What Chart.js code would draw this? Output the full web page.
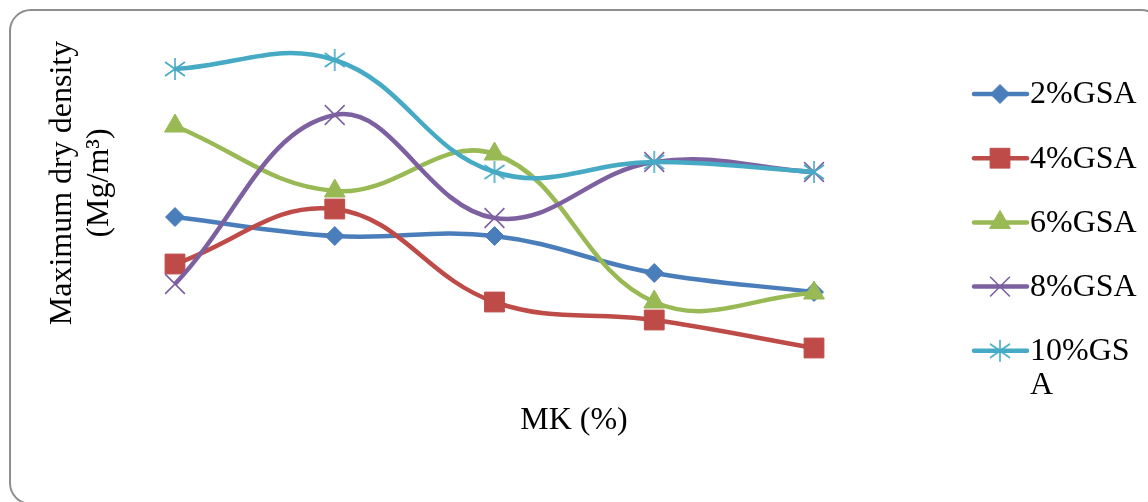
<!DOCTYPE html>
<html>
<head>
<meta charset="utf-8">
<script src="https://cdn.jsdelivr.net/npm/chart.js@4/dist/chart.umd.min.js"></script>
<style>
  body { margin: 0; background: #fff; }
  #wrap { position: relative; width: 1148px; height: 502px; overflow: hidden; }
  #frame { position: absolute; left: 9px; top: 9px; width: 1150px; height: 492px;
           border: 2px solid #8e8e8e; border-radius: 22px; }
  #chart { position: absolute; left: 0; top: 0; }
</style>
</head>
<body>
<div id="wrap">
  <div id="frame"></div>
  <canvas id="chart" width="1148" height="502"></canvas>
</div>
<script>
// MK content (%) - categories (no tick labels shown on the chart)
const mkLevels = ['0', '5', '10', '15', '20'];
const seriesNames = ['2%GSA', '4%GSA', '6%GSA', '8%GSA', '10%GSA'];

// maximum dry density (Mg/m3)
const gsa2 = [1.783, 1.764, 1.764, 1.727, 1.708];
const gsa4 = [1.736, 1.791, 1.698, 1.680, 1.652];
const gsa6 = [1.874, 1.809, 1.846, 1.698, 1.707];
const gsa8 = [1.716, 1.885, 1.782, 1.838, 1.828];
const gsa10 = [1.931, 1.940, 1.828, 1.838, 1.828];

const colors = ['#4a7ebb', '#be4b48', '#98b954', '#7d60a0', '#46aac5'];
const serif = '"Liberation Serif", "Times New Roman", serif';

// excel style asterisk marker: vertical bar plus a wide X
function starMarker(color) {
  const c = document.createElement('canvas');
  c.width = 24; c.height = 24;
  const g = c.getContext('2d');
  g.strokeStyle = color;
  g.lineWidth = 1.6;
  g.beginPath();
  g.moveTo(12, 1); g.lineTo(12, 23);
  g.moveTo(2, 5); g.lineTo(22, 19);
  g.moveTo(2, 19); g.lineTo(22, 5);
  g.stroke();
  return c;
}

const markers = [
  { pointStyle: 'rectRot', pointRadius: 9.5, pointBorderWidth: 1 },
  { pointStyle: 'rect', pointRadius: 14, pointBorderWidth: 1 },
  { pointStyle: 'triangle', pointRadius: 12, pointBorderWidth: 1 },
  { pointStyle: 'crossRot', pointRadius: 14, pointBorderWidth: 1.6 },
  { pointStyle: starMarker(colors[4]), pointRadius: 12, pointBorderWidth: 0 }
];

const values = [gsa2, gsa4, gsa6, gsa8, gsa10];

const datasets = values.map((v, i) => ({
  label: seriesNames[i],
  data: v,
  borderColor: colors[i],
  backgroundColor: colors[i],
  pointBackgroundColor: colors[i],
  pointBorderColor: colors[i],
  borderWidth: 4.5,
  tension: 0.4,
  clip: false,
  order: values.length - 1 - i,
  pointStyle: markers[i].pointStyle,
  pointRadius: markers[i].pointRadius,
  pointBorderWidth: markers[i].pointBorderWidth
}));

function wrapText(ctx, text, maxW) {
  const lines = [];
  let cur = '';
  for (const ch of text) {
    if (cur && ctx.measureText(cur + ch).width > maxW) {
      lines.push(cur);
      cur = ch;
    } else {
      cur += ch;
    }
  }
  lines.push(cur);
  return lines;
}

// axis titles and a line+marker legend like the original
const extras = {
  id: 'extras',
  afterDraw(chart) {
    const ctx = chart.ctx;
    ctx.save();
    ctx.fillStyle = '#000';
    ctx.font = '32px ' + serif;
    ctx.textAlign = 'center';
    ctx.textBaseline = 'middle';
    ctx.fillText('MK (%)', 574, 421);

    ctx.save();
    ctx.translate(63, 183);
    ctx.rotate(-Math.PI / 2);
    ctx.fillText('Maximum dry density', 0, 0);
    ctx.restore();
    ctx.save();
    ctx.translate(100, 183);
    ctx.rotate(-Math.PI / 2);
    ctx.fillText('(Mg/m\u00b3)', 0, 0);
    ctx.restore();

    chart.data.datasets.forEach((ds, i) => {
      const y = 94 + i * 64.2;
      ctx.strokeStyle = ds.borderColor;
      ctx.fillStyle = ds.borderColor;
      ctx.lineWidth = 4.5;
      ctx.lineCap = 'round';
      ctx.beginPath();
      ctx.moveTo(974, y);
      ctx.lineTo(1027, y);
      ctx.stroke();
      ctx.lineCap = 'butt';
      ctx.lineWidth = ds.pointBorderWidth;
      Chart.helpers.drawPoint(ctx, {
        pointStyle: ds.pointStyle,
        radius: ds.pointRadius,
        borderWidth: ds.pointBorderWidth,
        rotation: 0
      }, 1000, y);

      ctx.fillStyle = '#000';
      ctx.textAlign = 'left';
      ctx.font = '32px ' + serif;
      const lines = wrapText(ctx, ds.label, 112);
      lines.forEach((ln, k) => ctx.fillText(ln, 1030, y + 1 + k * 34));
    });
    ctx.restore();
  }
};

new Chart(document.getElementById('chart'), {
  type: 'line',
  data: {
    labels: mkLevels,
    datasets: datasets
  },
  options: {
    responsive: false,
    animation: false,
    layout: {
      padding: { left: 175, right: 334, top: 40, bottom: 102 }
    },
    scales: {
      x: { display: false, offset: false },
      y: { display: false, min: 1.60, max: 1.96 }
    },
    plugins: {
      legend: { display: false },
      tooltip: { enabled: false }
    }
  },
  plugins: [extras]
});
</script>
</body>
</html>
